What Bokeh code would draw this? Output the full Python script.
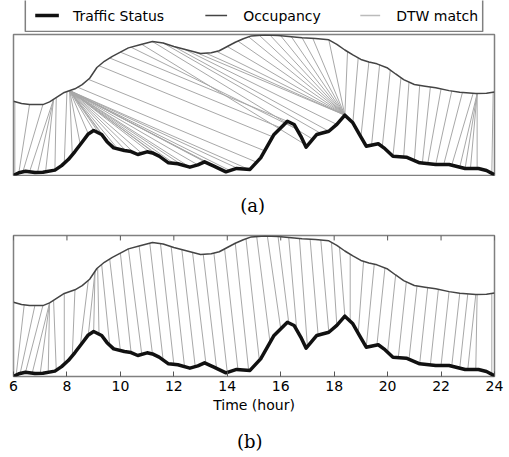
import numpy as np
from bokeh.plotting import figure
from bokeh.models import Range1d, FixedTicker
from bokeh.layouts import column
from bokeh.core.properties import value
from bokeh.embed import file_html
from bokeh.resources import INLINE

# ---------------- data (normalised) ----------------
occ_t = [6.0, 6.3, 6.6, 7.1, 7.35, 7.9, 8.3, 8.57, 8.85, 9.12, 9.4, 9.7, 10.0, 10.3,
         10.7, 11.2, 11.6, 12.0, 12.5, 13.0, 13.4, 13.7, 14.0, 14.3, 14.6, 14.9, 15.4,
         15.9, 16.3, 16.8, 17.3, 17.8, 18.1, 18.4, 18.7, 19.0, 19.3, 19.6, 20.0, 20.3,
         20.6, 21.0, 21.4, 21.8, 22.3, 22.7, 23.3, 23.7, 24.0]
occ_v = [0.527, 0.51, 0.503, 0.503, 0.522, 0.589, 0.615, 0.645, 0.69, 0.766, 0.81, 0.845,
         0.875, 0.905, 0.925, 0.95, 0.94, 0.915, 0.89, 0.865, 0.87, 0.885, 0.915, 0.945,
         0.97, 0.99, 0.997, 0.993, 0.985, 0.977, 0.972, 0.962, 0.93, 0.89, 0.855, 0.823,
         0.805, 0.792, 0.762, 0.72, 0.68, 0.645, 0.633, 0.622, 0.602, 0.59, 0.581, 0.583,
         0.592]

traf_t = [6.0, 6.2, 6.45, 6.8, 7.1, 7.55, 7.8, 8.05, 8.3, 8.55, 8.8, 9.0, 9.3, 9.5, 9.75,
          10.15, 10.4, 10.65, 11.0, 11.2, 11.45, 11.8, 12.15, 12.6, 12.9, 13.15, 13.5,
          13.95, 14.35, 14.85, 15.25, 15.75, 16.25, 16.5, 16.75, 16.95, 17.35, 17.8, 18.1,
          18.4, 18.7, 18.95, 19.2, 19.65, 19.9, 20.2, 20.7, 21.2, 21.8, 22.3, 22.9, 23.4,
          23.7, 24.0]
traf_v = [0.0, 0.02, 0.03, 0.022, 0.023, 0.038, 0.07, 0.113, 0.17, 0.232, 0.295, 0.319,
          0.291, 0.24, 0.196, 0.177, 0.17, 0.149, 0.168, 0.16, 0.137, 0.09, 0.083, 0.059,
          0.075, 0.097, 0.066, 0.026, 0.05, 0.043, 0.125, 0.291, 0.385, 0.362, 0.28, 0.201,
          0.291, 0.314, 0.362, 0.428, 0.374, 0.29, 0.208, 0.225, 0.19, 0.137, 0.13, 0.09,
          0.078, 0.078, 0.05, 0.05, 0.035, 0.005]

# DTW match pairs (traffic time -> occupancy time), panel (a)
match_a_traf = [6.05, 6.2, 6.35, 6.6, 6.9, 7.2, 7.55, 7.9,
                8.2, 8.5, 8.8, 9.0, 9.2, 9.4, 9.6, 9.9, 10.2, 10.5, 10.8, 11.1, 11.4,
                11.7, 12.0, 12.3, 12.6, 12.9, 13.2, 13.5, 13.8, 14.1, 14.4, 14.8,
                15.1, 15.4, 15.7, 16.0, 16.3, 16.6, 16.9, 17.2, 17.5, 17.8, 18.1,
                18.4, 18.4, 18.4, 18.4, 18.4, 18.4, 18.4, 18.4, 18.4, 18.4, 18.4, 18.4,
                18.4, 18.4,
                18.7, 19.0, 19.4, 19.8, 20.2, 20.6, 21.0, 21.3, 21.5, 21.8, 22.1, 22.4,
                22.7, 22.9, 23.1, 23.35, 23.9]
match_a_occ = [6.05, 6.6, 7.1, 7.5, 7.5, 7.5, 7.6, 8.0,
               8.1, 8.1, 8.1, 8.1, 8.1, 8.1, 8.1, 8.1, 8.1, 8.1, 8.1, 8.1, 8.1,
               8.1, 8.1, 8.1, 8.1, 8.1, 8.1, 8.1, 8.1, 8.1, 8.1, 8.1,
               8.4, 8.8, 9.2, 9.6, 10.0, 10.4, 10.8, 11.2, 11.6, 12.0, 12.4,
               12.8, 13.2, 13.6, 14.0, 14.4, 14.8, 15.2, 15.6, 16.0, 16.4, 16.8, 17.2,
               17.8, 18.5,
               18.9, 19.3, 19.7, 20.1, 20.5, 20.8, 21.2, 21.6, 22.0, 22.4, 22.8, 23.2,
               23.35, 23.35, 23.35, 23.35, 23.95]

# DTW match pairs, panel (b)
match_b_traf = [6.0, 6.1, 6.25, 6.45, 6.7, 7.0, 7.3, 7.6, 7.9, 8.2, 8.5, 8.8, 9.0, 9.2,
                9.6, 10.0, 10.4, 10.8, 11.2, 11.6, 12.0, 12.4, 12.8, 13.2, 13.6, 14.0,
                14.4, 14.8, 15.2, 15.6, 16.0, 16.3, 16.6, 17.0, 17.4, 17.8, 18.1, 18.4,
                18.6, 18.9, 19.2, 19.6, 20.0, 20.4, 20.8, 21.2, 21.6, 22.0, 22.4, 22.7,
                23.0, 23.3, 23.9]
match_b_occ = [6.0, 6.4, 6.8, 7.1, 7.35, 7.35, 7.35, 7.5, 7.9, 8.3, 8.8, 9.05, 9.05, 9.15,
               9.3, 9.6, 10.0, 10.3, 10.7, 11.1, 11.5, 11.9, 12.3, 12.7, 13.1, 13.5,
               13.9, 14.3, 14.7, 15.1, 15.5, 15.9, 16.3, 16.7, 17.1, 17.5, 17.9, 18.2,
               18.6, 19.1, 19.5, 19.9, 20.3, 20.7, 21.1, 21.5, 21.9, 22.3, 22.7, 23.0,
               23.3, 23.35, 23.9]

tick_hours = [6, 8, 10, 12, 14, 16, 18, 20, 22, 24]
legend_labels = ["Traffic Status", "Occupancy", "DTW match"]
captions = ["(a)", "(b)"]

# ---------------- styles ----------------
W = 509
TRAF_COLOR = "#111111"
OCC_COLOR = "#444444"
DTW_COLOR = "#a8a8a8"
FRAME_COLOR = "#808080"
TICK_COLOR = "#555555"
SANS = "DejaVu Sans"
SERIF = "DejaVu Serif"


def bare(width, height):
    p = figure(width=width, height=height, output_backend="svg", toolbar_location=None,
               x_axis_location=None, y_axis_location=None, min_border=0,
               x_range=Range1d(0, width), y_range=Range1d(0, height))
    p.grid.visible = False
    p.outline_line_color = None
    p.background_fill_color = "white"
    p.border_fill_color = "white"
    return p


def draw_panel(p, m_traf, m_occ):
    y0 = np.interp(m_traf, traf_t, traf_v)
    y1 = np.interp(m_occ, occ_t, occ_v)
    p.segment(x0=m_traf, y0=y0, x1=m_occ, y1=y1, line_color=DTW_COLOR, line_width=1)
    p.line(occ_t, occ_v, line_color=OCC_COLOR, line_width=1.5, line_join="round")
    p.line(traf_t, traf_v, line_color=TRAF_COLOR, line_width=3.5, line_join="round")


# ---------------- legend ----------------
leg = bare(W, 32)
leg.quad(left=[12.5], right=[496.5], bottom=[1], top=[34], fill_color=None,
         line_color=FRAME_COLOR, line_width=1.5)
leg.segment(x0=[23], y0=[17], x1=[48], y1=[17], line_color=TRAF_COLOR, line_width=3.5)
leg.segment(x0=[203], y0=[17], x1=[226], y1=[17], line_color=OCC_COLOR, line_width=1.5)
leg.segment(x0=[367], y0=[17], x1=[388], y1=[17], line_color="#bbbbbb", line_width=1.5)
leg.text(x=[63, 243, 405], y=[17, 17, 17], text=legend_labels, text_font=value(SANS),
         text_font_size="14px", text_baseline="middle", text_align="left", text_color="black")

# ---------------- panel (a) ----------------
pa = figure(width=W, height=144, output_backend="svg", toolbar_location=None,
            x_axis_location=None, y_axis_location=None,
            min_border_left=13, min_border_right=12, min_border_top=2, min_border_bottom=1,
            x_range=Range1d(6, 24), y_range=Range1d(0, 1))
pa.grid.visible = False
pa.outline_line_color = FRAME_COLOR
pa.outline_line_width = 1.5
draw_panel(pa, match_a_traf, match_a_occ)

cap_a = bare(W, 46)
cap_a.text(x=[253], y=[17], text=[captions[0]], text_font=value(SERIF), text_font_size="18px",
           text_align="center", text_baseline="middle", text_color="black")

# ---------------- panel (b) ----------------
pb = figure(width=W, height=200, output_backend="svg", toolbar_location=None,
            x_axis_location="below", y_axis_location=None,
            min_border_left=11, min_border_right=15, min_border_top=13, min_border_bottom=46,
            x_range=Range1d(6, 24), y_range=Range1d(0, 1))
pb.grid.visible = False
pb.outline_line_color = FRAME_COLOR
pb.outline_line_width = 1.5
draw_panel(pb, match_b_traf, match_b_occ)
# inward tick marks on the top edge (matplotlib style)
pb.segment(x0=tick_hours, y0=[1.0] * len(tick_hours), x1=tick_hours,
           y1=[0.965] * len(tick_hours), line_color=TICK_COLOR, line_width=1)

xa = pb.xaxis[0]
xa.ticker = FixedTicker(ticks=tick_hours)
xa.axis_line_color = None
xa.major_tick_in = 5
xa.major_tick_out = 0
xa.major_tick_line_color = TICK_COLOR
xa.minor_tick_line_color = None
xa.major_label_standoff = 4
xa.major_label_text_font = SANS
xa.major_label_text_font_size = "14px"
xa.major_label_text_color = "black"
xa.axis_label = "Time (hour)"
xa.axis_label_text_font = SANS
xa.axis_label_text_font_size = "14px"
xa.axis_label_text_font_style = "normal"
xa.axis_label_text_color = "black"
xa.axis_label_standoff = 3

cap_b = bare(W, 35)
cap_b.text(x=[250], y=[16], text=[captions[1]], text_font=value(SERIF), text_font_size="18px",
           text_align="center", text_baseline="middle", text_color="black")

layout = column(leg, pa, cap_a, pb, cap_b, spacing=0)
open("out.html", "w").write(file_html(layout, INLINE))
